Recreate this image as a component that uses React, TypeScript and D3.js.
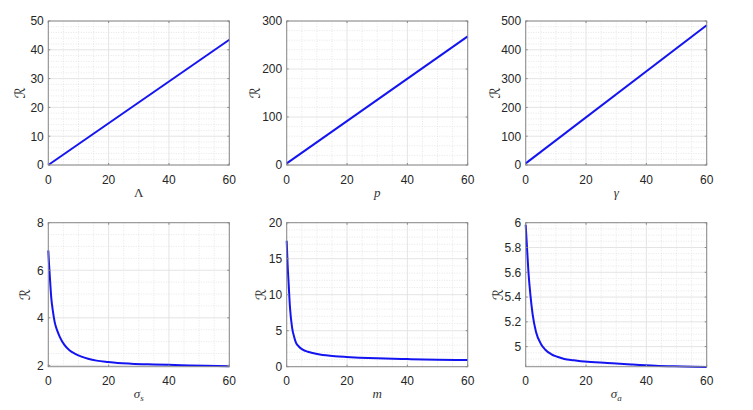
import React from "react";
import * as d3 from "d3";

// ---- data ----
const lambdaX = [0, 60];
const lambdaR = [0, 43.5];

const pX = [0, 60];
const pR = [3.5, 268];

const gammaX = [0, 60];
const gammaR = [5.5, 485];

const sigmaSX = [0, 0.2, 0.44, 1, 1.5, 2.1, 3, 3.8, 5.4, 7, 8.75, 11, 13.2, 16, 19.8, 23, 27.5, 35, 44, 52, 60];
const sigmaSR = [6.83, 6.35, 5.87, 4.82, 4.3, 3.83, 3.45, 3.2, 2.85, 2.64, 2.5, 2.37, 2.28, 2.2, 2.14, 2.1, 2.07, 2.04, 2.01, 1.98, 1.96];

const mX = [0, 0.3, 0.66, 1.1, 1.8, 2.5, 3.1, 4, 5.3, 7, 8.6, 11, 13, 16, 19.7, 24, 30, 40, 50, 60];
const mR = [17.5, 14.2, 11.4, 8.15, 5.4, 4.1, 3.3, 2.8, 2.36, 2.08, 1.9, 1.7, 1.58, 1.45, 1.35, 1.26, 1.17, 1.06, 0.98, 0.93];

const sigmaAX = [0, 0.44, 0.9, 1.55, 2.3, 3.4, 5.1, 6.5, 8.4, 10.5, 12.8, 16, 19.5, 27, 35, 43, 52, 60];
const sigmaAR = [5.984, 5.795, 5.606, 5.42, 5.26, 5.12, 5.02, 4.975, 4.94, 4.918, 4.9, 4.89, 4.88, 4.868, 4.856, 4.846, 4.84, 4.835];

const xTicks = [0, 20, 40, 60];
const lambdaTicks = [0, 10, 20, 30, 40, 50];
const pTicks = [0, 100, 200, 300];
const gammaTicks = [0, 100, 200, 300, 400, 500];
const sigmaSTicks = [2, 4, 6, 8];
const mTicks = [0, 5, 10, 15, 20];
const sigmaATicks = [5, 5.2, 5.4, 5.6, 5.8, 6];

type Panel = {
  xs: number[];
  ys: number[];
  yDomain: [number, number];
  yTicks: number[];
  yMinor: number;
  xLabel: React.ReactNode;
  left: number;
  top: number;
  ylabOff: number;
};

const W = 181;
const H = 144;
const xMinorStep = 5;

const sub = (base: string, s: string) => (
  <>
    {base}
    <tspan fontSize={9} dy={3}>{s}</tspan>
  </>
);

const panels: Panel[] = [
  { xs: lambdaX, ys: lambdaR, yDomain: [0, 50], yTicks: lambdaTicks, yMinor: 2, xLabel: <tspan fontStyle="normal">Λ</tspan>, left: 48.3, top: 21, ylabOff: 28 },
  { xs: pX, ys: pR, yDomain: [0, 300], yTicks: pTicks, yMinor: 20, xLabel: "p", left: 286.7, top: 21, ylabOff: 31.5 },
  { xs: gammaX, ys: gammaR, yDomain: [0, 500], yTicks: gammaTicks, yMinor: 20, xLabel: "γ", left: 525.7, top: 21, ylabOff: 31 },
  { xs: sigmaSX, ys: sigmaSR, yDomain: [1.945, 8], yTicks: sigmaSTicks, yMinor: 0.5, xLabel: sub("σ", "s"), left: 48.3, top: 222.7, ylabOff: 23.5 },
  { xs: mX, ys: mR, yDomain: [0, 20], yTicks: mTicks, yMinor: 1, xLabel: "m", left: 286.7, top: 222.7, ylabOff: 25.5 },
  { xs: sigmaAX, ys: sigmaAR, yDomain: [4.838, 6], yTicks: sigmaATicks, yMinor: 0.05, xLabel: sub("σ", "a"), left: 525.7, top: 222.7, ylabOff: 28 },
];

const tickColor = "#262626";
const boxColor = "#8a8a8a";

function Plot({ p }: { p: Panel }) {
  const x = d3.scaleLinear().domain([0, 60]).range([0, W]);
  const y = d3.scaleLinear().domain(p.yDomain).range([H, 0]);
  const line = d3
    .line<number>()
    .x((_, i) => x(p.xs[i]))
    .y((d) => y(d))
    .curve(d3.curveMonotoneX);

  const xMinor = d3.range(0, 60 + 1e-9, xMinorStep).filter((v) => !xTicks.includes(v));
  const startM = Math.ceil(p.yDomain[0] / p.yMinor - 1e-9) * p.yMinor;
  const yMinor = d3
    .range(startM, p.yDomain[1] + 1e-9, p.yMinor)
    .filter((v) => !p.yTicks.some((t) => Math.abs(t - v) < 1e-9));
  const fmt = (v: number) => String(Math.round(v * 100) / 100);

  return (
    <g transform={`translate(${p.left},${p.top})`}>
      <rect x={0} y={0} width={W} height={H} fill="#ffffff" />
      {xMinor.map((v) => (
        <line key={"xm" + v} x1={x(v)} x2={x(v)} y1={0} y2={H} stroke="#dcdcdc" strokeWidth={0.7} strokeDasharray="1,1.5" />
      ))}
      {yMinor.map((v) => (
        <line key={"ym" + v} x1={0} x2={W} y1={y(v)} y2={y(v)} stroke="#dcdcdc" strokeWidth={0.7} strokeDasharray="1,1.5" />
      ))}
      {xTicks.map((v) => (
        <line key={"xg" + v} x1={x(v)} x2={x(v)} y1={0} y2={H} stroke="#e1e1e1" strokeWidth={0.9} />
      ))}
      {p.yTicks.map((v) => (
        <line key={"yg" + v} x1={0} x2={W} y1={y(v)} y2={y(v)} stroke="#e1e1e1" strokeWidth={0.9} />
      ))}
      <path d={line(p.ys) || ""} fill="none" stroke="#1414f0" strokeWidth={2} strokeLinejoin="round" />
      <rect x={0} y={0} width={W} height={H} fill="none" stroke={boxColor} strokeWidth={1} />
      {xTicks.map((v) => (
        <g key={"xt" + v}>
          <line x1={x(v)} x2={x(v)} y1={H} y2={H - 2} stroke={boxColor} />
          <line x1={x(v)} x2={x(v)} y1={0} y2={2} stroke={boxColor} />
          <text x={x(v)} y={H + 18.5} textAnchor="middle" fontSize={12} fill={tickColor} fontFamily="'Liberation Sans', Arial, sans-serif">
            {fmt(v)}
          </text>
        </g>
      ))}
      {p.yTicks.map((v) => (
        <g key={"yt" + v}>
          <line x1={0} x2={2} y1={y(v)} y2={y(v)} stroke={boxColor} />
          <line x1={W} x2={W - 2} y1={y(v)} y2={y(v)} stroke={boxColor} />
          <text x={-4.5} y={y(v)} dy="0.36em" textAnchor="end" fontSize={12} fill={tickColor} fontFamily="'Liberation Sans', Arial, sans-serif">
            {fmt(v)}
          </text>
        </g>
      ))}
      <text
        transform={`translate(${-p.ylabOff},${H / 2}) rotate(-90)`}
        textAnchor="middle"
        dy="0.35em"
        fontSize={14}
        fill={tickColor}
        fontFamily="'DejaVu Serif', 'DejaVu Sans', serif"
      >
        ℛ
      </text>
      <text x={W / 2} y={H + (p.top < 100 ? 32 : 31)} textAnchor="middle" fontSize={13} fontStyle="italic" fill="#333" fontFamily="'Liberation Serif', 'DejaVu Serif', serif">
        {p.xLabel}
      </text>
    </g>
  );
}

export default function App() {
  return (
    <svg width={753} height={410} style={{ position: "absolute", left: 0, top: 0, background: "#ffffff" }}>
      <rect width={753} height={410} fill="#ffffff" />
      {panels.map((p, i) => (
        <Plot key={i} p={p} />
      ))}
    </svg>
  );
}
